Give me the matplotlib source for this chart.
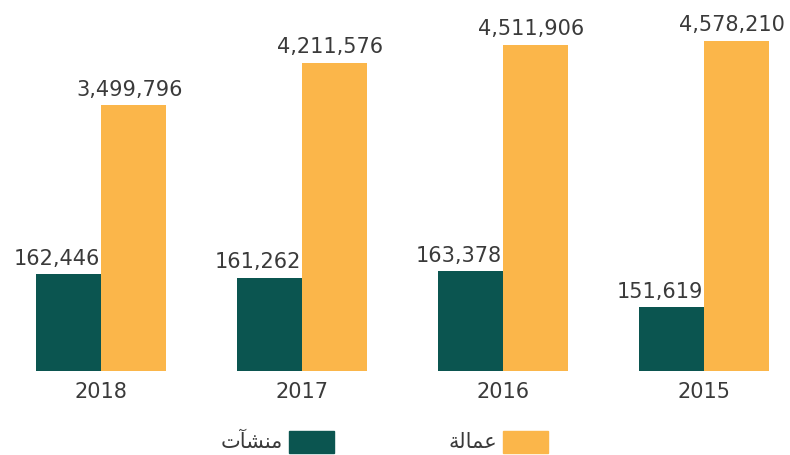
import matplotlib
matplotlib.use("Agg")
import matplotlib.pyplot as plt
from matplotlib.patches import Rectangle
import numpy as np

years = ["2018", "2017", "2016", "2015"]
establishments = [162446, 161262, 163378, 151619]   # منشآت
workers = [3499796, 4211576, 4511906, 4578210]      # عمالة

# Arabic labels (presentation forms, visual order)
label_est = "\uFE95\uFE82\uFEB8\uFEE8\uFEE3"   # منشآت
label_wrk = "\uFE94\uFEDF\uFE8E\uFEE4\uFECB"   # عمالة

GREEN = "#0B5550"
ORANGE = "#FBB64A"
TEXT = "#3a3a3a"

W, H = 790, 455
fig = plt.figure(figsize=(W / 100, H / 100), dpi=100)
plt.rcParams['font.family'] = ['DejaVu Sans']

ax = fig.add_axes([0, 84 / H, 1, 371 / H])
ax2 = ax.twinx()

x = np.arange(len(years))
bw = 65 / 201

g_lo, g_hi = 130800, 252100
o_lo, o_hi = -935700, 5261000

est = np.array(establishments)
wrk = np.array(workers)

ax.bar(x - bw / 2, est - g_lo, bottom=g_lo, width=bw, color=GREEN)
ax2.bar(x + bw / 2, wrk - o_lo, bottom=o_lo, width=bw, color=ORANGE)

ax.set_ylim(g_lo, g_hi)
ax2.set_ylim(o_lo, o_hi)
ax.set_xlim(-101 / 201, (W - 101) / 201)

for xi, v in zip(x, est):
    ax2.annotate(f"{v:,}", (xi - bw / 2, v), xycoords=ax.transData,
                 xytext=(-8.5, 4), textcoords="offset points",
                 ha="center", va="bottom", fontsize=15, color=TEXT,
                 annotation_clip=False, zorder=10)
for xi, v in zip(x, wrk):
    ax2.annotate(f"{v:,}", (xi + bw / 2, v), xytext=(-3, 4), textcoords="offset points",
                 ha="center", va="bottom", fontsize=15, color=TEXT,
                 annotation_clip=False, zorder=10)

ax.set_xticks(x)
ax.set_xticklabels(years, fontsize=15, color=TEXT)
ax.tick_params(axis="x", length=0, pad=8)
ax.set_yticks([])
ax2.set_yticks([])
for a in (ax, ax2):
    for s in a.spines.values():
        s.set_visible(False)
    a.patch.set_visible(False)

# legend
def legend_item(x0, color, label):
    fig.add_artist(Rectangle((x0 / W, (H - 453) / H), 45 / W, 22 / H,
                             transform=fig.transFigure, color=color))
    fig.text((x0 - 6) / W, (H - 442) / H, label, ha="right", va="center",
             fontsize=15, color=TEXT, family=['DejaVu Sans'])

legend_item(289, GREEN, label_est)
legend_item(503, ORANGE, label_wrk)

fig.savefig("out.png", dpi=100)
